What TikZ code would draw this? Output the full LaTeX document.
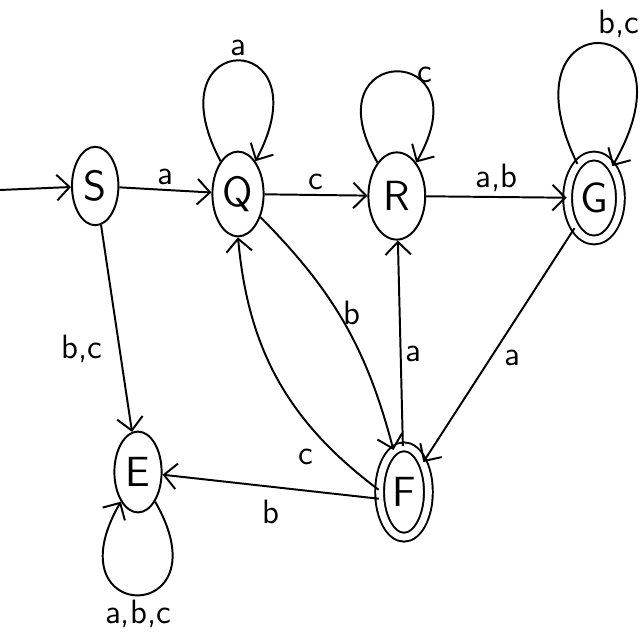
\documentclass[tikz,border=0pt]{standalone}
\usepackage{tikz}
\usetikzlibrary{positioning,arrows.meta,shapes.geometric}

\begin{document}
\begin{tikzpicture}[
  line width=0.7pt,
  >={Straight Barb[length=1.6mm,width=3.2mm]},
  state/.style={draw,ellipse,inner sep=0pt,font=\sffamily\fontsize{15}{18}\selectfont},
  final/.style={state,double,double distance=0.85mm},
  lbl/.style={font=\sffamily\fontsize{12}{14}\selectfont,inner sep=1.5pt}
]
  \useasboundingbox (0,0) rectangle (8,8);
  % states (1cm = 80px of the sketch)
  \node[state,minimum width=5.8mm,minimum height=9.8mm] (S) at (1.19,5.675) {S};
  \node[state,minimum width=6.4mm,minimum height=10.6mm] (Q) at (2.975,5.575) {Q};
  \node[state,minimum width=7.1mm,minimum height=10.9mm] (R) at (4.96,5.55) {R};
  \node[final,minimum width=6.6mm,minimum height=10.5mm] (G) at (7.425,5.525) {G};
  \node[state,minimum width=5.9mm,minimum height=10.1mm] (E) at (1.725,2.1) {E};
  \node[final,minimum width=6.1mm,minimum height=11.3mm] (F) at (5.05,1.85) {F};
  \coordinate (start) at (0,5.625);

  \draw[->] (start) -- (S);
  \draw[->] (S) -- node[lbl,above] {a} (Q);
  \draw[->] (Q) -- node[lbl,above] {c} (R);
  \draw[->] (R) -- node[lbl,above] {a,b} (G);
  \draw[->] (S) -- node[lbl,left=1.5mm,pos=0.6] {b,c} (E);
  \draw[->] (Q) to[bend left=15] node[lbl,right,pos=0.45] {b} (F);
  \draw[->] (F.175) to[bend left=24] node[lbl,below left,pos=0.22,xshift=-1mm] {c} (Q.south);
  \draw[->] (F) -- node[lbl,right,pos=0.45] {a} (R);
  \draw[->] (G) -- node[lbl,below right,pos=0.5] {a} (F);
  \draw[->] (F.195) -- node[lbl,below=1mm,pos=0.5] {b} (E);
  % self loops
  \draw[->] (Q) edge[loop,out=118,in=62,min distance=19mm] node[lbl,above] {a} (Q);
  \draw[->] (R) edge[loop,out=120,in=60,min distance=17.5mm] node[lbl,pos=0.6,right] {c} (R);
  \draw[->] (G) edge[loop,out=116,in=60,min distance=23mm] node[lbl,pos=0.5,anchor=south,xshift=2.5mm] {b,c} (G);
  \draw[->] (E) edge[loop,out=-60,in=-120,min distance=18mm] node[lbl,below] {a,b,c} (E);
\end{tikzpicture}
\end{document}
